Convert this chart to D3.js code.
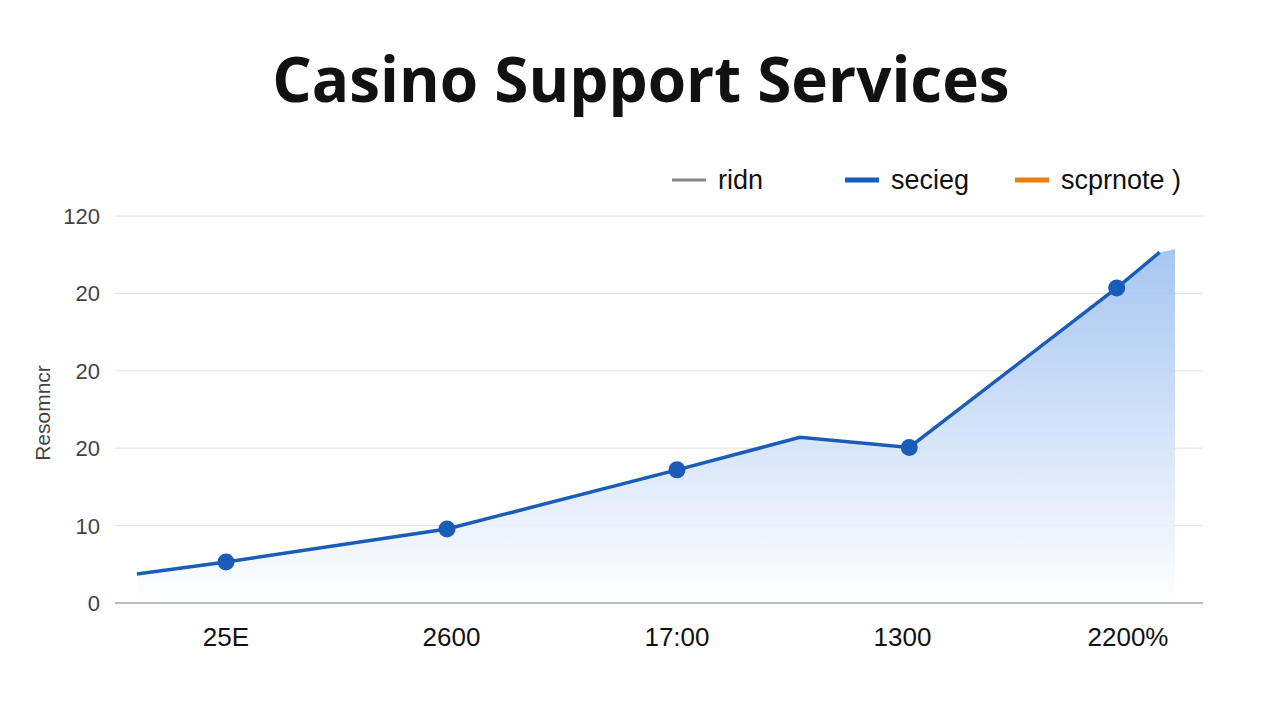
<!DOCTYPE html>
<html><head><meta charset="utf-8">
<script src="https://cdn.jsdelivr.net/npm/d3@7"></script>
<style>body{margin:0;background:#fff}</style>
</head><body>
<script>
// data (y in gridline units, x in category units)
var categories = ["25E", "2600", "17:00", "1300", "2200%"];
var yTickLabels = ["0", "10", "20", "20", "20", "120"];
var lineX = [-0.395, 0, 0.98, 2.0, 2.545, 3.03, 3.95, 4.14];
var lineY = [0.375, 0.53, 0.956, 1.72, 2.14, 2.01, 4.07, 4.53];
var markerIdx = [1, 2, 3, 5, 6];
var legendNames = ["ridn", "secieg", "scprnote )"];
var legendColors = ["#888888", "#1a5cb8", "#f07d10"];

var W = 1280, H = 720;
var svg = d3.select("body").append("svg").attr("width", W).attr("height", H)
    .style("font-family", "'Liberation Sans', Arial, sans-serif");

var x = d3.scaleLinear().domain([0, 4]).range([226, 1128]);
var y = d3.scaleLinear().domain([0, 5]).range([603, 216]);

svg.append("text").attr("x", 641).attr("y", 102).attr("text-anchor", "middle")
    .attr("font-size", 62).attr("font-weight", "bold").attr("fill", "#111")
    .style("font-family", "'Open Sans', sans-serif")
    .text("Casino Support Services");

// grid
svg.selectAll("line.grid").data(d3.range(1, 6)).join("line")
    .attr("x1", 115).attr("x2", 1203).attr("y1", d => y(d)).attr("y2", d => y(d))
    .attr("stroke", "#e2e2e2").attr("stroke-width", 1);
svg.selectAll("text.yt").data(yTickLabels).join("text")
    .attr("x", 100).attr("y", (d, i) => y(i) + 8).attr("text-anchor", "end")
    .attr("font-size", 22).attr("fill", "#444").text(d => d);

svg.append("text").attr("transform", "translate(50,413) rotate(-90)")
    .attr("text-anchor", "middle").attr("font-size", 21).attr("fill", "#444").text("Resomncr");

// gradient area
var defs = svg.append("defs");
var g = defs.append("linearGradient").attr("id", "fill").attr("x1", 0).attr("x2", 0).attr("y1", 0).attr("y2", 1);
g.append("stop").attr("offset", "0%").attr("stop-color", "#9cc0f0");
g.append("stop").attr("offset", "100%").attr("stop-color", "#ffffff");
var pts = lineX.map((v, i) => [v, lineY[i]]);
var areaPts = pts.concat([[x.invert(1175), y.invert(249)]]);
svg.append("path").datum(areaPts)
    .attr("d", d3.area().x(d => x(d[0])).y0(y(0)).y1(d => y(d[1])))
    .attr("fill", "url(#fill)").attr("opacity", 0.9);

// axis line
svg.append("line").attr("x1", 115).attr("x2", 1203).attr("y1", y(0)).attr("y2", y(0))
    .attr("stroke", "#bbb").attr("stroke-width", 2);
svg.selectAll("text.xt").data(categories).join("text")
    .attr("x", (d, i) => x(i)).attr("y", 646).attr("text-anchor", "middle")
    .attr("font-size", 26).attr("fill", "#111").text(d => d);

svg.append("path").datum(pts)
    .attr("d", d3.line().x(d => x(d[0])).y(d => y(d[1])))
    .attr("fill", "none").attr("stroke", "#1a5cb8").attr("stroke-width", 3.5);
svg.selectAll("circle").data(markerIdx).join("circle")
    .attr("cx", i => x(lineX[i])).attr("cy", i => y(lineY[i])).attr("r", 8.5)
    .attr("fill", "#1a5cb8");

// legend
var lx = [672, 845, 1015];
legendNames.forEach(function(n, i) {
    svg.append("line").attr("x1", lx[i]).attr("x2", lx[i] + 34).attr("y1", 180).attr("y2", 180)
        .attr("stroke", legendColors[i]).attr("stroke-width", i == 0 ? 3 : 5);
    svg.append("text").attr("x", lx[i] + 46).attr("y", 189).attr("font-size", 27)
        .attr("fill", "#111").text(n);
});
</script>
</body></html>
